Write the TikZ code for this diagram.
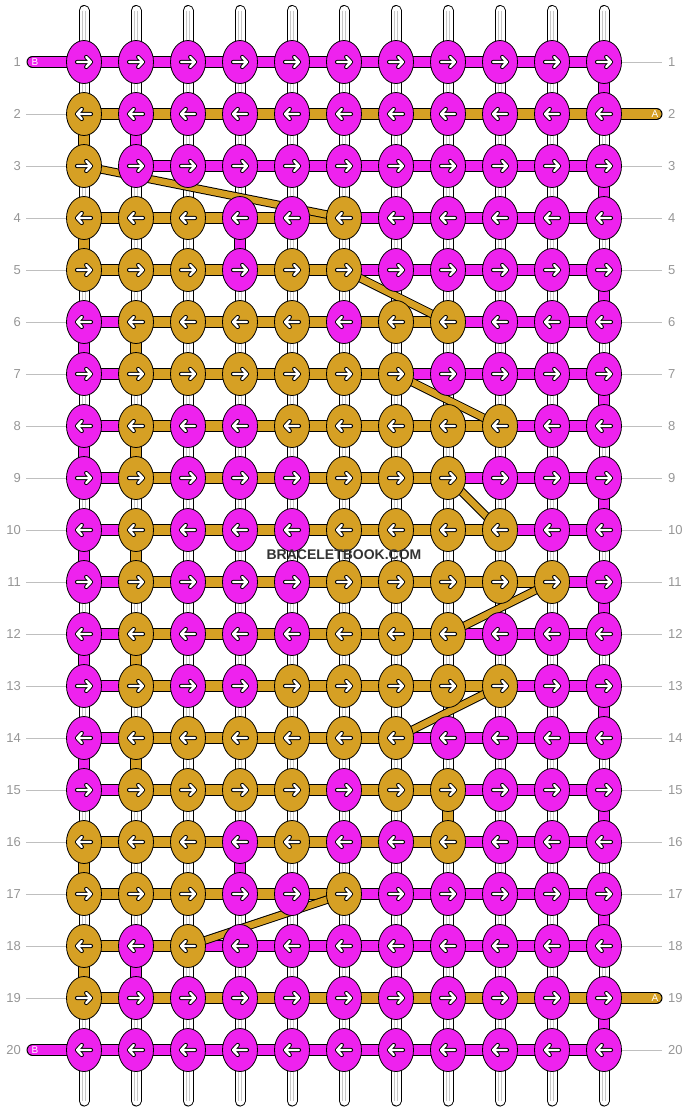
\documentclass[tikz,border=0pt]{standalone}
\usepackage{fontspec}
\setmainfont{Liberation Sans}
\usetikzlibrary{shapes.geometric}
\definecolor{M}{RGB}{238,34,238}
\definecolor{G}{RGB}{214,160,36}
\definecolor{rowgray}{RGB}{150,150,150}
\pgfdeclarelayer{bg}
\pgfsetlayers{bg,main}
\tikzset{
  knot/.style={ellipse,draw=black,line width=0.8pt,minimum width=35pt,minimum height=43pt,inner sep=0pt},
  thread/.style={draw=black,line width=1pt,double=#1,double distance=10pt},
  slant/.style={draw=black,line width=1pt,double=#1,double distance=6.5pt},
  warp/.style={draw=black,line width=1pt,double=white,double distance=9pt,line cap=round},
  lab/.style={text=rowgray,font=\fontsize{13}{13}\selectfont,inner sep=0pt},
  lead/.style={draw=black!25,line width=0.8pt},
  knotarrow/.pic={
    \draw[black,line width=4.2pt,line cap=round,line join=round] (-7,0) -- (7,0) (2.2,-5) -- (7,0) -- (2.2,5);
    \draw[white,line width=2.4pt,line cap=round,line join=round] (-7,0) -- (7,0) (2.2,-5) -- (7,0) -- (2.2,5);
  }
}
\begin{document}
\begin{tikzpicture}[x=1pt,y=-1pt]
\useasboundingbox (0,0) rectangle (688,1112);
%\node at (344,0) {pattern};
\foreach \r/\ks in {
  1/{M,M,M,M,M,M,M,M,M,M,M},
  2/{G,M,M,M,M,M,M,M,M,M,M},
  3/{G,M,M,M,M,M,M,M,M,M,M},
  4/{G,G,G,M,M,G,M,M,M,M,M},
  5/{G,G,G,M,G,G,M,M,M,M,M},
  6/{M,G,G,G,G,M,G,G,M,M,M},
  7/{M,G,G,G,G,G,G,M,M,M,M},
  8/{M,G,M,M,G,G,G,G,G,M,M},
  9/{M,G,M,M,M,G,G,G,M,M,M},
  10/{M,G,M,M,M,G,G,G,G,M,M},
  11/{M,G,M,M,M,G,G,G,G,G,M},
  12/{M,G,M,M,M,G,G,G,M,M,M},
  13/{M,G,M,M,G,G,G,G,G,M,M},
  14/{M,G,G,G,G,G,G,M,M,M,M},
  15/{M,G,G,G,G,M,G,G,M,M,M},
  16/{G,G,G,M,G,M,M,G,M,M,M},
  17/{G,G,G,M,M,G,M,M,M,M,M},
  18/{G,M,G,M,M,M,M,M,M,M,M},
  19/{G,M,M,M,M,M,M,M,M,M,M},
  20/{M,M,M,M,M,M,M,M,M,M,M}}{
  \pgfmathtruncatemacro\d{1-2*mod(\r+1,2)}
  \foreach \k [count=\c] in \ks {
    \node[knot,fill=\k] (k-\r-\c) at ({32+52*\c},{10+52*\r}) {};
    \pic[xscale=\d] at (k-\r-\c) {knotarrow};
  }
}
\foreach \c in {1,...,11} {
  \coordinate (top-\c) at ({32+52*\c},10.5);
  \coordinate (bot-\c) at ({32+52*\c},1101);
}
\coordinate (tB1) at (32.5,62);
\coordinate (tB20) at (32.5,1050);
\coordinate (tA2) at (656.5,114);
\coordinate (tA19) at (656.5,998);
\begin{pgfonlayer}{bg}
\foreach \c in {1,...,11} {
  \draw[warp] (top-\c) -- (bot-\c);
  \draw[black!22,line width=0.6pt] ([xshift=-1.6pt]top-\c) -- ([xshift=-1.6pt]bot-\c);
  \draw[black!22,line width=0.6pt] ([xshift=1.6pt]top-\c) -- ([xshift=1.6pt]bot-\c);
}
\foreach \c/\r/\col in {1/2/G,1/4/G,1/6/M,1/8/M,1/10/M,1/12/M,1/14/M,1/16/G,1/18/G,
  2/2/M,2/6/G,2/8/G,2/10/G,2/12/G,2/14/G,2/18/M,4/4/M,4/16/M,8/15/G,
  11/1/M,11/3/M,11/5/M,11/7/M,11/9/M,11/11/M,11/13/M,11/15/M,11/17/M,11/19/M}{
  \pgfmathtruncatemacro\n{\r+1}
  \draw[thread=\col] (k-\r-\c.center) -- (k-\n-\c.center);
}
\foreach \r/\bs in {
  1/{M,M,M,M,M,M,M,M,M,M},
  2/{G,G,G,G,G,G,G,G,G,G},
  3/{N,M,M,M,M,M,M,M,M,M},
  4/{G,G,G,G,G,M,M,M,M,M},
  5/{G,G,G,G,G,M,M,M,M,M},
  6/{M,G,G,G,G,G,G,M,M,M},
  7/{M,G,G,G,G,G,M,M,M,M},
  8/{M,G,G,G,G,G,G,G,M,M},
  9/{M,G,G,G,G,G,G,M,M,M},
  10/{M,G,G,G,G,G,G,G,M,M},
  11/{M,G,G,G,G,G,G,G,G,M},
  12/{M,G,G,G,G,G,G,M,M,M},
  13/{M,G,G,G,G,G,G,G,M,M},
  14/{M,G,G,G,G,G,M,M,M,M},
  15/{M,G,G,G,G,G,G,M,M,M},
  16/{G,G,G,G,G,G,G,M,M,M},
  17/{G,G,G,G,G,M,M,M,M,M},
  18/{G,G,M,M,M,M,M,M,M,M},
  19/{G,G,G,G,G,G,G,G,G,G},
  20/{M,M,M,M,M,M,M,M,M,M}}{
  \foreach \b [count=\c] in \bs {
    \pgfmathtruncatemacro\n{\c+1}
    \if N\b\else\draw[thread=\b] (k-\r-\c.center) -- (k-\r-\n.center);\fi
  }
}
\draw[thread=M,line cap=round] (tB1) -- (k-1-1.center);
\draw[thread=M,line cap=round] (tB20) -- (k-20-1.center);
\draw[thread=G,line cap=round] (k-2-11.center) -- (tA2);
\draw[thread=G,line cap=round] (k-19-11.center) -- (tA19);
\foreach \p/\q in {3-1/4-6,5-6/6-8,7-7/8-9,9-8/10-9,11-10/12-8,13-9/14-7,17-6/18-3}
  \draw[slant=G] (k-\p.center) -- (k-\q.center);
\end{pgfonlayer}
\foreach \r in {1,...,20} {
  \node[lab,anchor=east] (ll-\r) at (21,{10+52*\r}) {\r};
  \node[lab,anchor=west] (rl-\r) at (668,{10+52*\r}) {\r};
  \ifnum\r>1 \ifnum\r<20 \draw[lead] ([xshift=5pt]ll-\r.east) -- (k-\r-1.west);\fi\fi
  \ifnum\r=2 \else\ifnum\r=19 \else\draw[lead] (k-\r-11.east) -- ([xshift=-6pt]rl-\r.west);\fi\fi
}
\node[text=white,font=\fontsize{10}{10}\selectfont,inner sep=0pt] (B1) at (35,62) {B};
\node[text=white,font=\fontsize{10}{10}\selectfont,inner sep=0pt] (B20) at (35,1050) {B};
\node[text=white,font=\fontsize{10}{10}\selectfont,inner sep=0pt] (A2) at (655,114) {A};
\node[text=white,font=\fontsize{10}{10}\selectfont,inner sep=0pt] (A19) at (655,998) {A};
\node[text=black!80,font=\bfseries\fontsize{14}{14}\selectfont,inner sep=0pt] (wm) at (344,555) {BRACELETBOOK.COM};
\end{tikzpicture}
\end{document}
